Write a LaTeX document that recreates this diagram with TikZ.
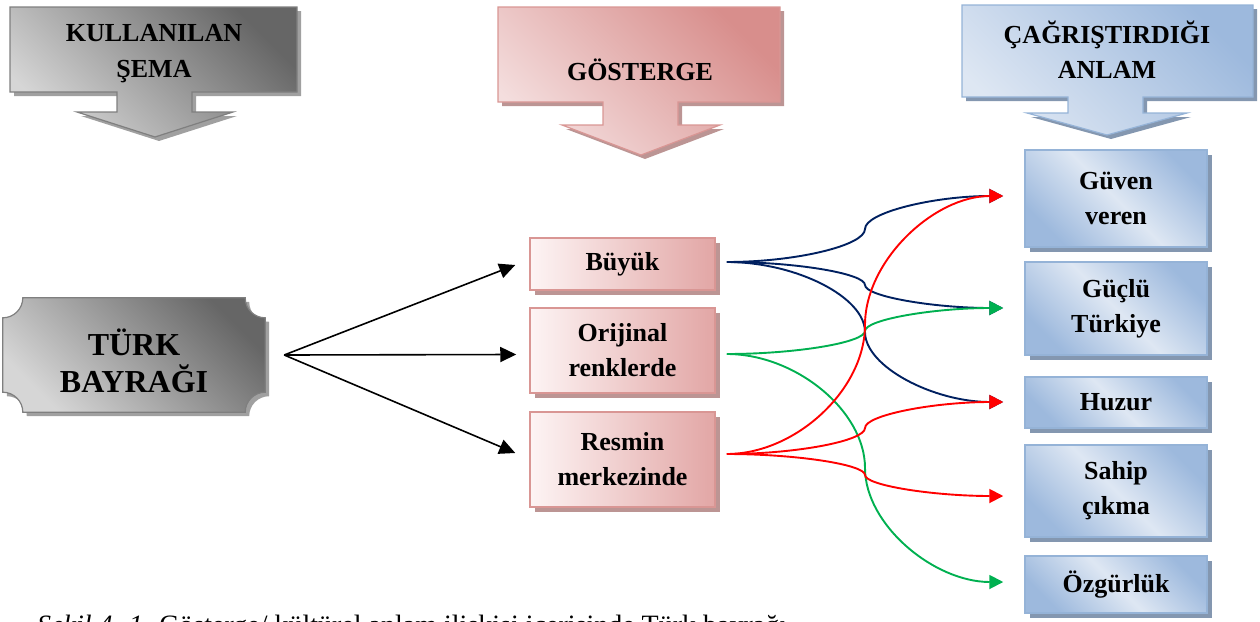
\documentclass[tikz,border=0pt]{standalone}
\usepackage{fontspec}
\setmainfont{Liberation Serif}
\usetikzlibrary{arrows.meta,calc,shadows}
\definecolor{navy}{HTML}{002060}
\definecolor{grn}{HTML}{00B050}
\definecolor{rd}{HTML}{FF0000}
\definecolor{pinkL}{HTML}{FDF4F4}
\definecolor{pinkD}{HTML}{E2A6A5}
\definecolor{pinkB}{HTML}{D99694}
\definecolor{pinkS}{HTML}{BC9594}
\definecolor{pinkHL}{HTML}{F4DEDE}
\definecolor{pinkHD}{HTML}{D88E8C}
\definecolor{blueL}{HTML}{DEE7F3}
\definecolor{blueD}{HTML}{9DB9DD}
\definecolor{blueB}{HTML}{95B3D7}
\definecolor{blueS}{HTML}{8497B0}
\definecolor{grayL}{HTML}{D6D6D6}
\definecolor{grayD}{HTML}{666666}
\definecolor{grayB}{HTML}{7F7F7F}
\definecolor{grayS}{HTML}{A0A0A0}
\newcommand\wordconn[3]{\draw[#1] let \p1=(#2), \p2=(#3) in (\p1) .. controls ({0.75*\x1+0.25*\x2},\y1) and ({0.5*\x1+0.5*\x2},{0.75*\y1+0.25*\y2}) .. ({0.5*\x1+0.5*\x2},{0.5*\y1+0.5*\y2}) .. controls ({0.5*\x1+0.5*\x2},{0.25*\y1+0.75*\y2}) and ({0.25*\x1+0.75*\x2},\y2) .. (\p2);}
\begin{document}
\begin{tikzpicture}[x=1pt,y=-1pt,
  txt/.style={font=\fontsize{26}{35}\selectfont\bfseries, align=center, text=black},
  pbox/.style={txt, draw=pinkB, line width=1.5pt, left color=pinkL, right color=pinkD, inner sep=0pt, minimum width=185pt, general shadow={fill=pinkS, shadow xshift=5pt, shadow yshift=-5pt}},
  bbox/.style={txt, draw=blueB, line width=1.5pt, top color=blueD, bottom color=blueD, middle color=blueL, shading angle=-45, inner sep=0pt, minimum width=182pt, general shadow={fill=blueS, shadow xshift=5pt, shadow yshift=-5pt}},
  hgray/.style={draw=grayB, line width=1.2pt, top color=grayD, bottom color=grayL, shading angle=-45, general shadow={fill=grayS, shadow xshift=4pt, shadow yshift=-4pt}},
  hpink/.style={draw=pinkB, line width=1.2pt, top color=pinkHD, bottom color=pinkHL, shading angle=-45, general shadow={fill=pinkS, shadow xshift=4pt, shadow yshift=-4pt}},
  hblue/.style={draw=blueB, line width=1.2pt, top color=blueD, bottom color=blueL, shading angle=-45, general shadow={fill=blueS, shadow xshift=4pt, shadow yshift=-4pt}},
  blk/.style={line width=1.6pt, -{Triangle[length=16pt,width=15pt]}},
  conn/.style={line width=1.9pt, -{Triangle[length=14pt,width=14pt]}}
]
\useasboundingbox (0,0) rectangle (1260,621);

% header callouts
\path[hgray] (10,7) -- (297,7) -- (297,92) -- (192,92) -- (192,112) -- (233,112) -- (155,137) -- (77,112) -- (117,112) -- (117,92) -- (10,92) -- cycle;
\node[txt, font=\fontsize{26}{36}\selectfont\bfseries] (h1) at (154,54) {KULLANILAN\\ŞEMA};
\path[hpink] (498,7) -- (780,7) -- (780,102) -- (678,102) -- (678,125) -- (720,125) -- (641,155) -- (562,125) -- (603,125) -- (603,102) -- (498,102) -- cycle;
\node[txt] (h2) at (640,70) {GÖSTERGE};
\path[hblue] (962,5) -- (1253,5) -- (1253,97) -- (1143,97) -- (1143,113) -- (1187,113) -- (1107,135) -- (1027,113) -- (1068,113) -- (1068,97) -- (962,97) -- cycle;
\node[txt] (h3) at (1107,50) {ÇAĞRIŞTIRDIĞI\\ANLAM};

% plaque
\node[minimum width=262pt, minimum height=114pt, inner sep=0pt] (tb) at (134,355) {};
\path[hgray] ([xshift=20pt]tb.north west) -- ([xshift=-20pt]tb.north east)
  arc[start angle=180, end angle=270, radius=20pt] -- ([yshift=20pt]tb.south east)
  arc[start angle=90, end angle=180, radius=20pt] -- ([xshift=20pt]tb.south west)
  arc[start angle=0, end angle=90, radius=20pt] -- ([yshift=-20pt]tb.north west)
  arc[start angle=270, end angle=360, radius=20pt] -- cycle;
\node[txt, font=\fontsize{32}{37}\selectfont\bfseries] (tbt) at ($(tb.center)+(0,6)$) {TÜRK\\BAYRAĞI};

% middle boxes
\node[pbox, minimum height=52pt] (b1) at (622.5,264) {Büyük};
\node[pbox, minimum height=85pt] (b2) at (622.5,350.5) {Orijinal\\renklerde};
\node[pbox, minimum height=95pt] (b3) at (622.5,459.5) {Resmin\\merkezinde};

% right boxes
\node[bbox, minimum height=97pt] (r1) at (1116,198.5) {Güven\\veren};
\node[bbox, minimum height=93pt] (r2) at (1116,308.5) {Güçlü\\Türkiye};
\node[bbox, minimum height=51pt] (r3) at (1116,402.5) {Huzur};
\node[bbox, minimum height=92pt] (r4) at (1116,491) {Sahip\\çıkma};
\node[bbox, minimum height=57pt] (r5) at (1116,584.5) {Özgürlük};

% connector end points
\coordinate (tbo) at ($(tb.east)+(19,0)$);
\coordinate (b1i) at ($(b1.west)+(-14,1)$);
\coordinate (b2i) at ($(b2.west)+(-13,4)$);
\coordinate (b3i) at ($(b3.west)+(-14,-6.5)$);
\coordinate (b1o) at ($(b1.east)+(11,-2)$);
\coordinate (b2o) at ($(b2.east)+(11,3.5)$);
\coordinate (b3o) at ($(b3.east)+(11,-5.5)$);
\coordinate (r1i) at ($(r1.west)+(-21,-2.5)$);
\coordinate (r2i) at ($(r2.west)+(-21,-0.5)$);
\coordinate (r3i) at ($(r3.west)+(-21,-0.5)$);
\coordinate (r4i) at ($(r4.west)+(-21,5)$);
\coordinate (r5i) at ($(r5.west)+(-21,-2.5)$);

\draw[blk] (tbo) -- (b1i);
\draw[blk] (tbo) -- (b2i);
\draw[blk] (tbo) -- (b3i);

\wordconn{conn, navy}{b1o}{r1i}
\wordconn{conn, navy}{b1o}{r2i}
\wordconn{conn, navy}{b1o}{r3i}
\wordconn{conn, grn}{b2o}{r2i}
\wordconn{conn, grn}{b2o}{r5i}
\wordconn{conn, rd}{b3o}{r1i}
\wordconn{conn, rd}{b3o}{r3i}
\wordconn{conn, rd}{b3o}{r4i}

% caption (cut by the lower edge, as in the reference)
\node[anchor=base west, inner sep=0pt, font=\fontsize{28}{30}\selectfont] (cap) at (37,634) {\textit{Şekil 4. 1.} Gösterge/ kültürel anlam ilişkisi içerisinde Türk bayrağı};
\end{tikzpicture}
\end{document}
